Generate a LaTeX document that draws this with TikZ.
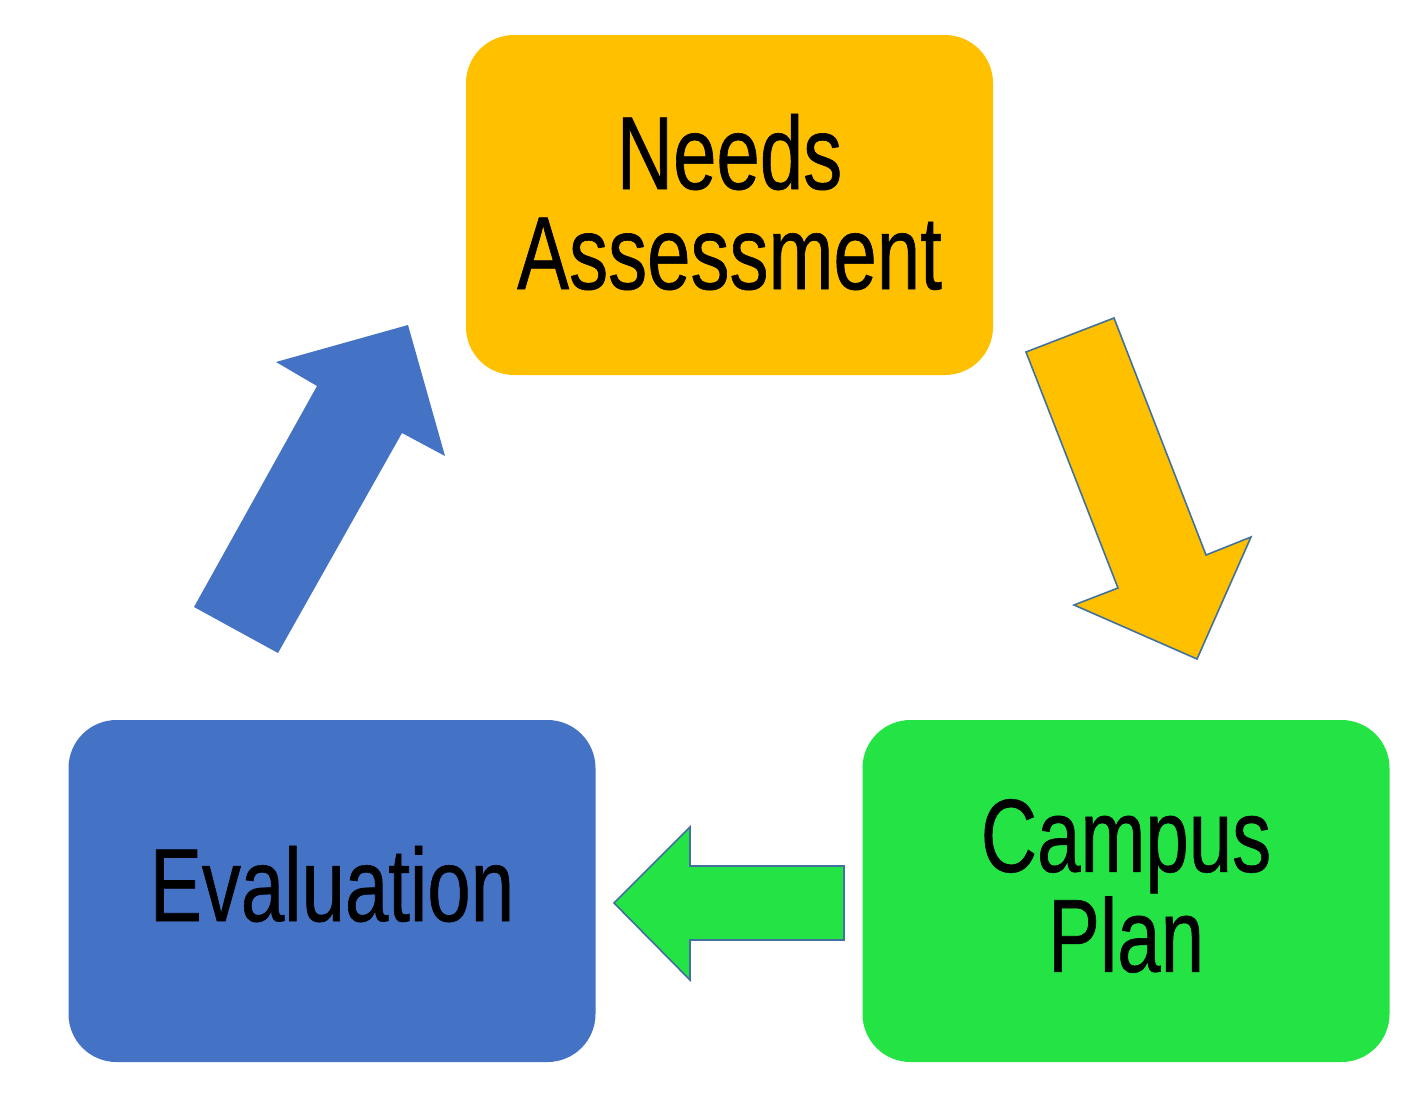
\documentclass[tikz,border=0pt]{standalone}
\usepackage{fontspec}
\setmainfont{Liberation Sans}[FakeStretch=0.75, FakeBold=0.6]
\definecolor{needsc}{HTML}{FFC000}
\definecolor{evalc}{HTML}{4472C4}
\definecolor{campusc}{HTML}{23E444}
\definecolor{edgec}{HTML}{41719C}
\begin{document}
\begin{tikzpicture}[x=0.5pt,y=-0.5pt]
\tikzset{
  stage/.style={rounded corners=24pt, minimum width=263.5pt, minimum height=170pt,
    inner sep=0pt},
  stagetext/.style={inner sep=0pt, align=center, text=black, font=\fontsize{52}{50}\selectfont},
  blockarrow/.style={draw=edgec, line width=0.8pt, line join=miter}
}
\useasboundingbox[fill=white] (0,0) rectangle (1426,1104);
\node[stage, fill=needsc] (needs) at (729.5,205) {};
\node[stage, fill=evalc, minimum height=171pt] (eval) at (332,891) {};
\node[stage, fill=campusc, minimum height=171pt] (campus) at (1126,891) {};
\node[stagetext, yshift=1.5pt] (needsT) at (needs.center) {Needs\\Assessment};
\node[stagetext, yshift=3.5pt] (evalT) at (eval.center) {Evaluation};
\node[stagetext, yshift=2.5pt] (campusT) at (campus.center) {Campus\\Plan};
% yellow arrow: Needs -> Campus
\filldraw[blockarrow, fill=needsc] (1026,352) -- (1114,318) -- (1206,555) -- (1251,537)
  -- (1197,659) -- (1074,605) -- (1118,588) -- cycle;
% green arrow: Campus -> Evaluation
\filldraw[blockarrow, fill=campusc] (614,903) -- (690,827) -- (690,866) -- (844,866)
  -- (844,940) -- (690,940) -- (690,980) -- cycle;
% blue arrow: Evaluation -> Needs
\fill[evalc] (194,607) -- (317,386) -- (276,362) -- (408,325) -- (445,456)
  -- (402,433) -- (278,653) -- cycle;
\end{tikzpicture}
\end{document}
